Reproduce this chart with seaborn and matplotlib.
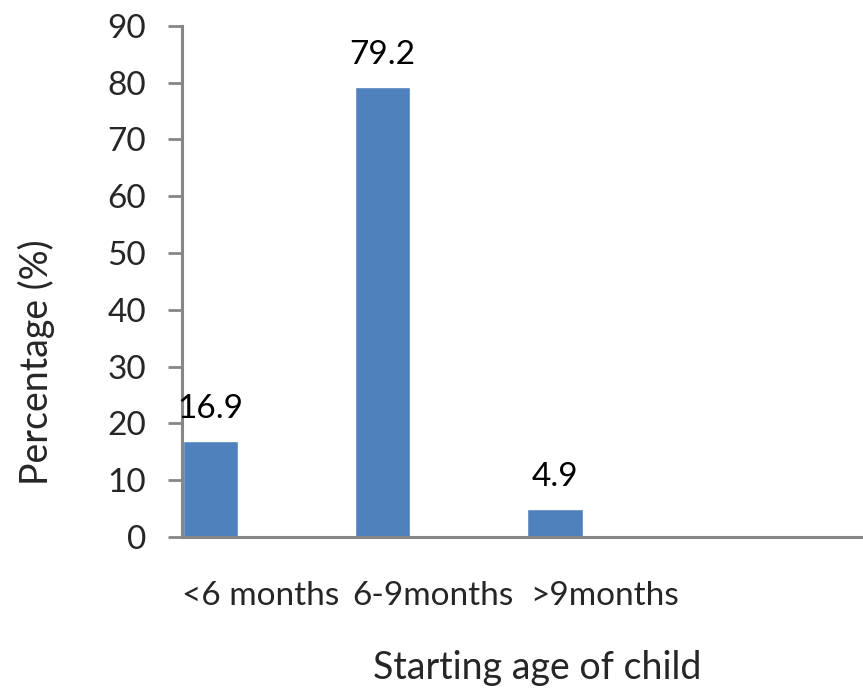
import matplotlib
matplotlib.use("Agg")
import matplotlib.pyplot as plt
import seaborn as sns
import pandas as pd

categories = ["<6 months", "6-9months", ">9months"]
percentages = [16.9, 79.2, 4.9]

df = pd.DataFrame({"age": categories, "pct": percentages})

sns.set_style("white")
plt.rcParams["font.family"] = ["Lato", "DejaVu Sans"]

fig = plt.figure(figsize=(8.63, 6.9), dpi=100)
ax = fig.add_axes([0.211, 0.2217, 0.789, 0.741])

sns.barplot(data=df, x="age", y="pct", color="#4F81BD", width=0.32,
            saturation=1, ax=ax)

# value labels above bars
for i, v in enumerate(percentages):
    ax.annotate(f"{v}", (i, v), xytext=(0, 23), textcoords="offset points",
                ha="center", va="center", fontsize=24, color="black")

ax.set_ylim(0, 90)
ax.set_yticks(range(0, 91, 10))
ax.set_xlim(-0.165, 3.788)
ax.set_xticks([i + 0.29 for i in range(len(categories))])
ax.set_xticklabels(categories)

ax.tick_params(axis="y", length=10, width=2, color="#868686", pad=16,
               labelsize=24, left=True)
ax.tick_params(axis="x", length=0, pad=32, labelsize=24)

for s in ["top", "right"]:
    ax.spines[s].set_visible(False)
for s in ["left", "bottom"]:
    ax.spines[s].set_color("#868686")
    ax.spines[s].set_linewidth(2.2)

ax.set_xlabel("Starting age of child", fontsize=27, va="center")
ax.set_ylabel("Percentage (%)", fontsize=27, va="center")
ax.xaxis.set_label_coords(0.521, -0.256)
ax.yaxis.set_label_coords(-0.214, 0.342)

fig.savefig("out.png", dpi=100)
